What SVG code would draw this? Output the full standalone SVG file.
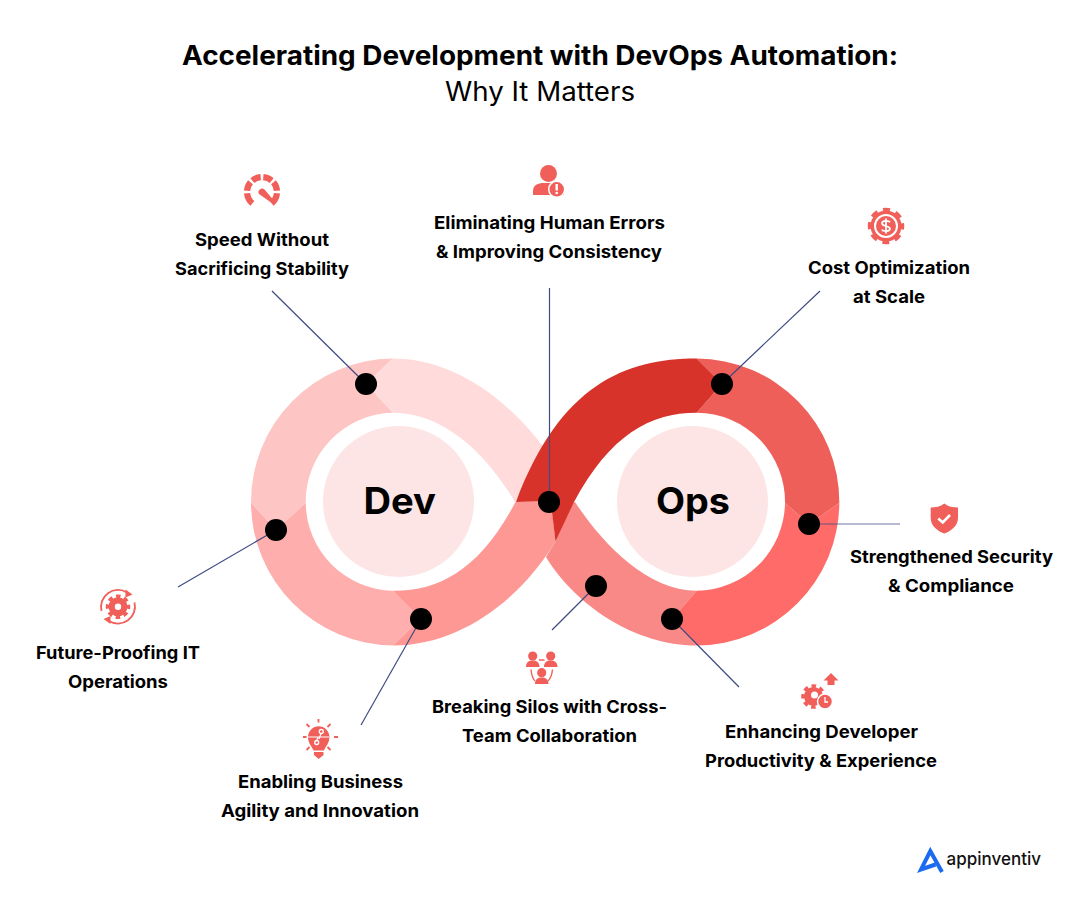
<svg xmlns="http://www.w3.org/2000/svg" width="1080" height="900" viewBox="0 0 1080 900">
<style>
text{font-family:"Inter","Liberation Sans",sans-serif;fill:#000}
.t{font-size:26.5px;font-weight:700}
.s{font-size:26.5px;font-weight:400}
.l{font-size:17.5px;font-weight:700}
.c{font-size:37px;font-weight:700}
.w{stroke:#3f4b82;stroke-width:1.2;fill:none}
.i{fill:#f05f59}
.o{fill:none;stroke:#f05f59}
.h{fill:none;stroke:#fff}
.d{fill:#000}
.hub{fill:#fee5e5}
</style>
<rect width="1080" height="900" fill="#fff"/>
<g id="title">
<text class="t" x="182" y="65" textLength="716" lengthAdjust="spacingAndGlyphs">Accelerating Development with DevOps Automation:</text>
<text class="s" x="445" y="101" textLength="190" lengthAdjust="spacingAndGlyphs">Why It Matters</text>
</g>
<g id="loop">
<path fill="#ffdcdb" d="M392.7,358.5C450,358.5 510,395 556,465L515,502C487,455 445,412.7 392.7,412.7L366,383.7Z"/>
<path fill="#fdc5c3" d="M392.7,358.5L366,383.7L392.7,412.7A89,89 0 0 0 305.7,503L276,530L251,503A143.5,143.5 0 0 1 392.7,358.5Z"/>
<path fill="#feaeac" d="M251,503L276,530L305.7,503A89,89 0 0 0 392.7,590.7L420.7,619L393,645.5A143.5,143.5 0 0 1 251,503Z"/>
<path fill="#fe9895" d="M392.7,590.7C440,591.3 480,569 515.5,502L551,501L555.5,541.5C520,600 460,645.5 393,645.5L420.7,619Z"/>
<path fill="#f98986" d="M575,502C600,540 645,590.7 696.7,590.7L672,619L696.7,645.5C635,645.5 575,605 546,557L555.5,541.5L573,503Z"/>
<path fill="#ff6b69" d="M839.3,503L809,524L785,503A89,89 0 0 1 696.7,590.7L672,619L696.7,645.5A143.3,143.3 0 0 0 839.3,503Z"/>
<path fill="#ee5f59" d="M696.7,358.5L722,383.7L696.7,412.7A89,89 0 0 1 785,503L809,524L839.3,503A143.3,143.3 0 0 0 696.7,358.5Z"/>
<path fill="#d7332b" d="M696.7,358.5C625,358.5 560,385 516,502L551,501L552,512L555.5,541.5L574,502C610,435 650,412.7 696.7,412.7L722,383.7Z"/>
</g>
<g id="node-dev"><circle class="hub" cx="398.5" cy="501.5" r="75.5"/><text class="c" x="363.5" y="513.5" textLength="72.5" lengthAdjust="spacingAndGlyphs">Dev</text></g>
<g id="node-ops"><circle class="hub" cx="692.5" cy="501.5" r="75.5"/><text class="c" x="656" y="513.5" textLength="74" lengthAdjust="spacingAndGlyphs">Ops</text></g>
<g id="connectors">
<path class="w" d="M272,291L366,384"/>
<path class="w" d="M549.5,288V502"/>
<path class="w" d="M820,291L722,384"/>
<path class="w" d="M900,524H809" stroke-opacity=".75"/>
<path class="w" d="M739,687L672,619"/>
<path class="w" d="M552,630L596,586"/>
<path class="w" d="M361,725L421,619"/>
<path class="w" d="M178,587L276,530"/>
<circle class="d" cx="366" cy="384" r="11"/>
<circle class="d" cx="549" cy="502" r="11"/>
<circle class="d" cx="722" cy="384" r="11"/>
<circle class="d" cx="809" cy="524" r="11"/>
<circle class="d" cx="672" cy="619" r="11"/>
<circle class="d" cx="596" cy="586" r="11"/>
<circle class="d" cx="421" cy="619" r="11"/>
<circle class="d" cx="276" cy="530" r="11"/>
</g>
<g id="node-speed">
<path class="o" stroke-width="6.2" d="M252.36,203.49A15,15 0 0 1 247.06,193.31M247.06,190.69A15,15 0 0 1 250.51,182.36M252.36,180.51A15,15 0 0 1 260.69,177.06M263.31,177.06A15,15 0 0 1 271.64,180.51M273.49,182.36A15,15 0 0 1 276.94,190.69M276.94,193.31A15,15 0 0 1 271.64,203.49"/>
<path class="i" d="M259,194A3.6,3.6 0 0 1 264.5,189.5L275.5,202.5L274,204.5Z"/>
<text class="l" x="195" y="246" textLength="134" lengthAdjust="spacingAndGlyphs">Speed Without</text>
<text class="l" x="175" y="275" textLength="174" lengthAdjust="spacingAndGlyphs">Sacrificing Stability</text>
</g>
<g id="node-errors">
<circle class="i" cx="548.5" cy="173.5" r="8.5"/>
<path class="i" d="M533,195V191C533,185 538,183 544,183H553C558,183 562,185 564,189V195Z"/>
<circle class="i" cx="556.7" cy="189.3" r="8" stroke="#fff" stroke-width="1.5"/>
<rect x="555.5" y="184" width="2.4" height="6.5" fill="#fff"/><circle cx="556.7" cy="193" r="1.3" fill="#fff"/>
<text class="l" x="434" y="229" textLength="231" lengthAdjust="spacingAndGlyphs">Eliminating Human Errors</text>
<text class="l" x="436" y="258" textLength="226" lengthAdjust="spacingAndGlyphs">&amp; Improving Consistency</text>
</g>
<g id="node-cost">
<circle class="i" cx="886" cy="226" r="15.5"/>
<circle class="o" cx="886" cy="226" r="16" stroke-width="4.5" stroke-dasharray="6.8 5.77" stroke-dashoffset="3.4"/>
<circle class="h" cx="886" cy="226" r="11" stroke-width="2"/>
<path class="h" stroke-width="1.8" d="M890,222.3C889,220.5 882,220.2 882,223.4C882,226.6 890,225.4 890,228.8C890,231.8 883,231.6 881.8,229.6M886,218.5V233.5"/>
<text class="l" x="808" y="274" textLength="162" lengthAdjust="spacingAndGlyphs">Cost Optimization</text>
<text class="l" x="853" y="303" textLength="72" lengthAdjust="spacingAndGlyphs">at Scale</text>
</g>
<g id="node-security">
<path class="i" d="M944.3,503.5C948,506.5 953,507.5 958,507.5V518C958,526 951,531 944.3,533.5C937.5,531 930.7,526 930.7,518V507.5C935.5,507.5 940.5,506.5 944.3,503.5Z"/>
<path class="h" stroke-width="2.6" d="M938.3,518.5L942.7,522.5L950,515"/>
<text class="l" x="850" y="563" textLength="203" lengthAdjust="spacingAndGlyphs">Strengthened Security</text>
<text class="l" x="888" y="592" textLength="126" lengthAdjust="spacingAndGlyphs">&amp; Compliance</text>
</g>
<g id="node-future">
<circle class="i" cx="118" cy="606.7" r="9.5"/>
<circle class="o" cx="118" cy="606.7" r="10.5" stroke-width="3.5" stroke-dasharray="4.5 3.74" stroke-dashoffset="2.25"/>
<circle cx="118" cy="606.7" r="3.2" fill="#fff"/>
<path class="o" stroke-width="1.8" d="M101.5,611A17,17 0 0 1 127,592.5M134.5,602.5A17,17 0 0 1 109,621"/>
<path class="i" d="M125.5,589.5L132.5,594.5L125.5,597.5ZM110.5,624L103.5,619L110.5,616Z"/>
<text class="l" x="36" y="659" textLength="164" lengthAdjust="spacingAndGlyphs">Future-Proofing IT</text>
<text class="l" x="68" y="688" textLength="100" lengthAdjust="spacingAndGlyphs">Operations</text>
</g>
<g id="node-silos">
<circle class="i" cx="532.7" cy="656" r="4.6"/><circle class="i" cx="550.7" cy="656" r="4.6"/><circle class="i" cx="541.7" cy="672.7" r="4.6"/>
<path class="i" d="M526,667C526,662 529,660.5 532.7,660.5C536.5,660.5 539.5,662 539.5,667ZM544,667C544,662 547,660.5 550.7,660.5C554.5,660.5 557.5,662 557.5,667ZM535,684C535,679 538,677.5 541.7,677.5C545.5,677.5 548.5,679 548.5,684Z"/>
<path class="o" stroke-width="1.4" d="M539,660H544.5M531,669.5C531.5,675 533,679 535,681M552.5,669.5C552,675 550,679 548,681"/>
<text class="l" x="432" y="713" textLength="235" lengthAdjust="spacingAndGlyphs">Breaking Silos with Cross-</text>
<text class="l" x="462" y="742" textLength="175" lengthAdjust="spacingAndGlyphs">Team Collaboration</text>
</g>
<g id="node-productivity">
<circle class="i" cx="813.5" cy="696.5" r="9.5"/>
<circle class="o" cx="813.5" cy="696.5" r="10.5" stroke-width="3.5" stroke-dasharray="4.5 3.74" stroke-dashoffset="2.25"/>
<circle cx="814.5" cy="695" r="3.5" fill="#fff"/>
<circle class="i" cx="825" cy="701.5" r="7.5" stroke="#fff" stroke-width="1.5"/>
<path class="h" stroke-width="1.3" d="M825,697V702H828"/>
<path class="i" d="M831,673L838.5,680.5H834.5V685H827.5V680.5H823.5Z"/>
<text class="l" x="725" y="738" textLength="193" lengthAdjust="spacingAndGlyphs">Enhancing Developer</text>
<text class="l" x="705" y="767" textLength="232" lengthAdjust="spacingAndGlyphs">Productivity &amp; Experience</text>
</g>
<g id="node-agility">
<path class="i" d="M308,737A10.7,10.7 0 0 1 329.4,737C329.4,743 326,746 324,750.5H313.5C311.5,746 308,743 308,737Z"/>
<path class="i" d="M314,752H323.5V755L318.7,759L314,755Z"/>
<path class="h" stroke-width="1.2" d="M308,737H329M319,739L321,733.5M316.5,741.5L318,737"/>
<circle class="h" cx="321.3" cy="731.5" r="2" stroke-width="1.3"/><circle class="h" cx="316.7" cy="742.5" r="2" stroke-width="1.3"/>
<path class="o" stroke-width="1.8" d="M303,737H306.5M334,737H338M318.5,719V722.5M306.5,724L309.5,727M330.5,724L327.5,727M306.5,750L309.5,747M330.5,750L327.5,747"/>
<text class="l" x="238" y="788" textLength="165" lengthAdjust="spacingAndGlyphs">Enabling Business</text>
<text class="l" x="221" y="817" textLength="198" lengthAdjust="spacingAndGlyphs">Agility and Innovation</text>
</g>
<g id="logo">
<path fill="none" stroke="#1a6bf0" stroke-width="4" stroke-linejoin="miter" d="M935.5,864.5L921,869.5L930.3,851L942,872"/>
<text x="946.5" y="864.5" style="font-size:18px;font-weight:500;fill:#111" textLength="94.5" lengthAdjust="spacingAndGlyphs">appinventiv</text>
</g>
</svg>
